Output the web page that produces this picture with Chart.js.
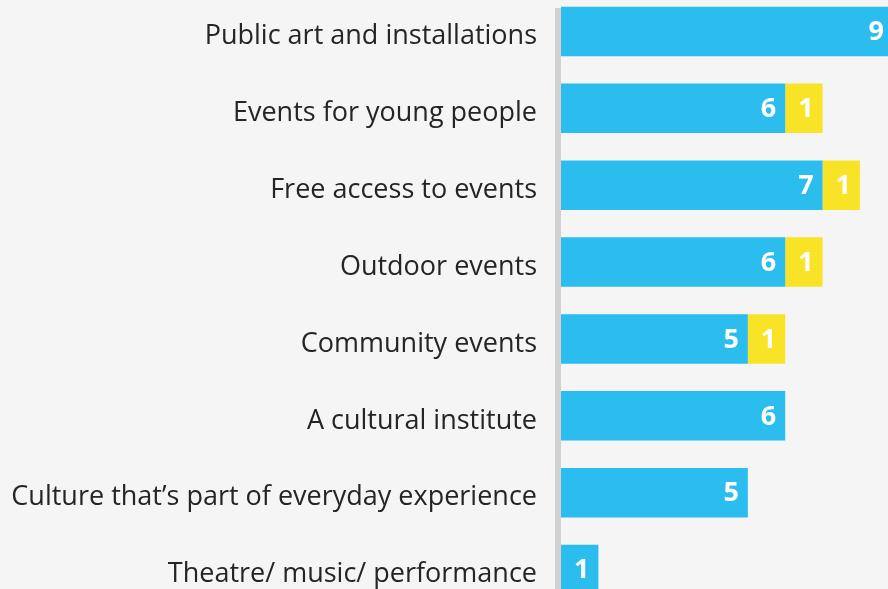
<!DOCTYPE html>
<html>
<head>
<meta charset="utf-8">
<script src="https://cdn.jsdelivr.net/npm/chart.js@4"></script>
<style>
  html, body { margin: 0; padding: 0; background: #f4f5f4; overflow: hidden; }
  #wrap { position: relative; width: 888px; height: 589px; overflow: hidden; }
  #chart { position: absolute; left: 0; top: -7px; }
</style>
</head>
<body>
<div id="wrap"><canvas id="chart" width="916" height="615"></canvas></div>
<script>
// データ
const categories = [
    'Public art and installations',
    'Events for young people',
    'Free access to events',
    'Outdoor events',
    'Community events',
    'A cultural institute',
    'Culture that\u2019s part of everyday experience',
    'Theatre/ music/ performance'
];
const blueValues = [9, 6, 7, 6, 5, 6, 5, 1];
const yellowValues = [null, 1, 1, 1, 1, null, null, null];

// 見える幅（ページ幅）
const VIEW_WIDTH = 888;

// 縦の罫線
const axisRule = {
    id: 'axisRule',
    beforeDatasetsDraw(chart) {
        const ctx = chart.ctx;
        const left = chart.chartArea.left;
        ctx.save();
        ctx.fillStyle = '#d2d2d2';
        ctx.fillRect(left - 6, 15, 6, chart.height);
        ctx.restore();
    }
};

// 棒の中の数値
const barLabels = {
    id: 'barLabels',
    afterDatasetsDraw(chart) {
        const ctx = chart.ctx;
        ctx.save();
        ctx.font = 'bold 27px "Open Sans"';
        ctx.fillStyle = '#ffffff';
        ctx.textBaseline = 'middle';
        chart.data.datasets.forEach((ds, i) => {
            const meta = chart.getDatasetMeta(i);
            meta.data.forEach((bar, j) => {
                const v = ds.data[j];
                if (!v) return;
                if (i === 0) {
                    ctx.textAlign = 'right';
                    ctx.fillText(String(v), Math.min(bar.x - 9, VIEW_WIDTH - 4), bar.y + 1);
                } else {
                    ctx.textAlign = 'center';
                    ctx.fillText(String(v), (bar.x + bar.base) / 2 + 2, bar.y + 1);
                }
            });
        });
        ctx.restore();
    }
};

function initChart() {
    const canvas = document.getElementById('chart');
    new Chart(canvas, {
        type: 'bar',
        data: {
            labels: categories,
            datasets: [
                {
                    data: blueValues,
                    backgroundColor: '#2bbdee',
                    categoryPercentage: 1,
                    barPercentage: 0.645
                },
                {
                    data: yellowValues,
                    backgroundColor: '#f8e326',
                    categoryPercentage: 1,
                    barPercentage: 0.645
                }
            ]
        },
        options: {
            indexAxis: 'y',
            responsive: false,
            animation: false,
            devicePixelRatio: 1,
            layout: { padding: 0 },
            plugins: {
                legend: { display: false },
                tooltip: { enabled: false }
            },
            scales: {
                x: {
                    display: false,
                    stacked: true,
                    min: 0,
                    max: 9.5
                },
                y: {
                    stacked: true,
                    grid: { display: false, drawTicks: false },
                    border: { display: false },
                    ticks: {
                        color: '#262425',
                        font: { family: 'Open Sans', size: 27 },
                        padding: 24,
                        labelOffset: 5
                    },
                    afterFit(scale) {
                        scale.width = 561;
                        scale.paddingTop = 0;
                        scale.paddingBottom = 0;
                    }
                }
            }
        },
        plugins: [axisRule, barLabels]
    });
}

document.addEventListener('DOMContentLoaded', initChart);
</script>
</body>
</html>
